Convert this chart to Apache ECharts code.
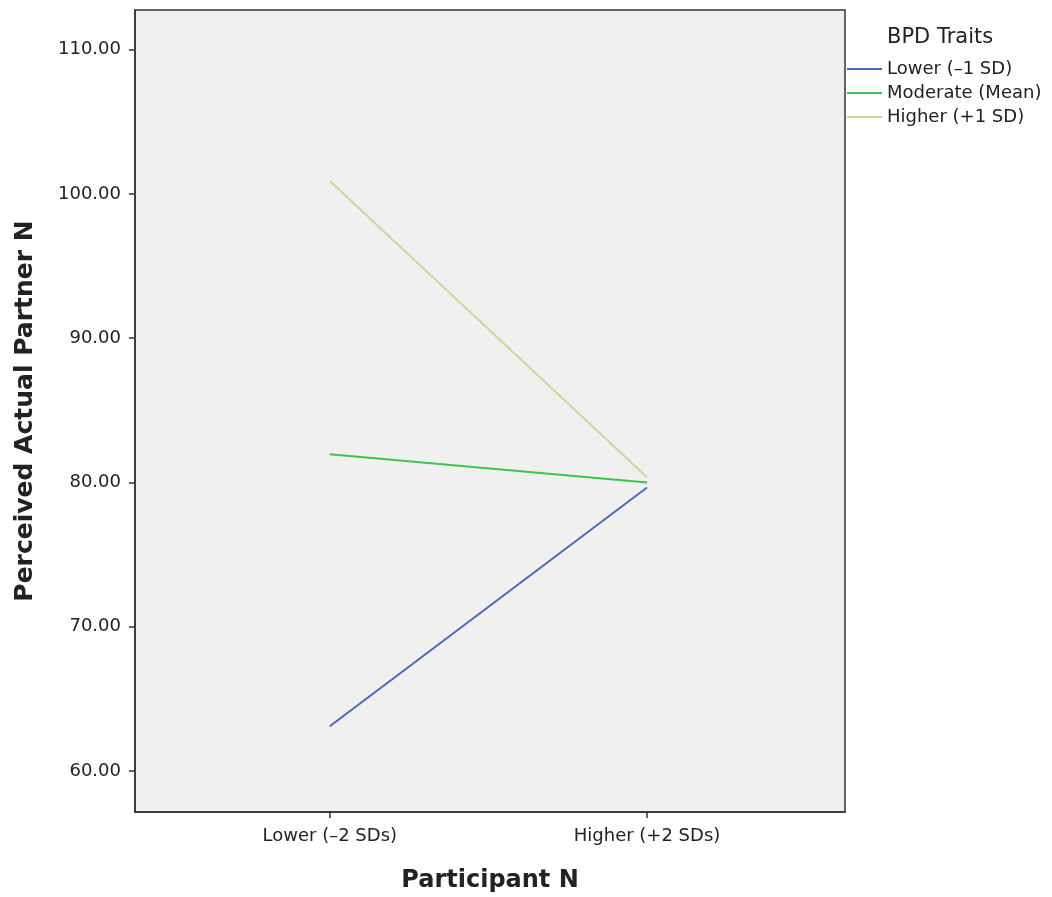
<!DOCTYPE html>
<html><head><meta charset="utf-8">
<script src="https://cdn.jsdelivr.net/npm/echarts@6/dist/echarts.min.js"></script>
<style>html,body{margin:0;padding:0;background:#fff}#c{width:1052px;height:897px}</style>
</head><body><div id="c"></div>
<script>
const categories = ['Lower (–2 SDs)', 'Higher (+2 SDs)'];
const seriesNames = ['Lower (–1 SD)', 'Moderate (Mean)', 'Higher (+1 SD)'];
const lowerVals = [63.1, 79.65];
const moderateVals = [81.95, 80.0];
const higherVals = [100.9, 80.35];
const yTicks = [60, 70, 80, 90, 100, 110];
const colors = ['#5065c2', '#3ec44c', '#d6d29e'];

const font = 'DejaVu Sans';
const toPts = vals => vals.map((v, i) => [i, v]);
const allVals = [lowerVals, moderateVals, higherVals];

const chart = echarts.init(document.getElementById('c'), null, {renderer: 'canvas'});
chart.setOption({
  animation: false,
  backgroundColor: '#fff',
  title: {text: 'BPD Traits', left: 882, top: 22, textStyle: {fontFamily: font, fontSize: 21, fontWeight: 'normal', color: '#222'}},
  legend: {
    orient: 'vertical', left: 847, top: 60, itemWidth: 35, itemHeight: 2, itemGap: 6, padding: 0,
    icon: 'rect',
    textStyle: {fontFamily: font, fontSize: 18, color: '#222'},
    data: seriesNames
  },
  grid: {left: 135, right: 207, top: 10, bottom: 85, outerBoundsMode: 'none', show: true, backgroundColor: '#f0f0f0', borderColor: '#333', borderWidth: 1.5},
  xAxis: {
    type: 'value', min: -0.614, max: 1.624,
    axisLine: {show: true, onZero: false, lineStyle: {color: '#333', width: 1.5}},
    axisTick: {show: true, customValues: [0, 1], length: 6, lineStyle: {color: '#333', width: 1.5}},
    axisLabel: {customValues: [0, 1], formatter: v => categories[Math.round(v)], fontFamily: font, fontSize: 18, color: '#222', margin: 15},
    splitLine: {show: false},
    name: 'Participant N', nameLocation: 'middle', nameGap: 57,
    nameTextStyle: {fontFamily: font, fontSize: 24, fontWeight: 'bold', color: '#222'}
  },
  yAxis: {
    type: 'value', min: 57.15, max: 112.75,
    axisLine: {show: true, onZero: false, lineStyle: {color: '#333', width: 1.5}},
    axisTick: {show: true, customValues: yTicks, length: 6, lineStyle: {color: '#333', width: 1.5}},
    axisLabel: {customValues: yTicks, formatter: v => v.toFixed(2), fontFamily: font, fontSize: 18, color: '#222', margin: 14},
    splitLine: {show: false},
    name: 'Perceived Actual Partner N', nameLocation: 'middle', nameGap: 97,
    nameTextStyle: {fontFamily: font, fontSize: 25, fontWeight: 'bold', color: '#222'}
  },
  series: seriesNames.map((n, k) => ({
    name: n, type: 'line', data: toPts(allVals[k]), showSymbol: false, symbol: 'none',
    lineStyle: {color: colors[k], width: 2}, itemStyle: {color: colors[k]}
  }))
});
</script></body></html>
